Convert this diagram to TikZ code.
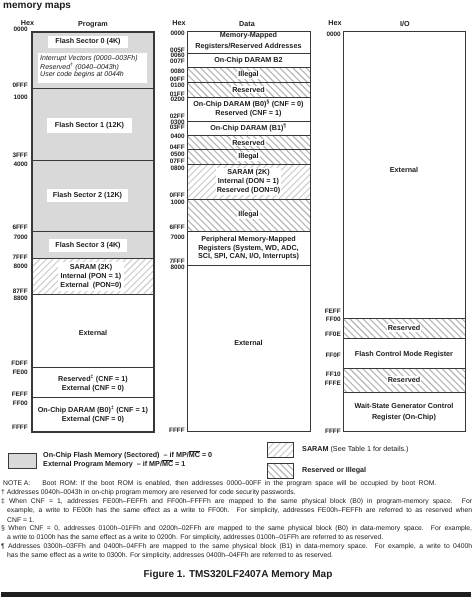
\documentclass[tikz,border=0pt]{standalone}
\usepackage{fontspec}
\setmainfont{Liberation Sans}

\definecolor{ink}{HTML}{1E1E1E}
\definecolor{framec}{HTML}{383838}
\definecolor{flashgray}{HTML}{D9D9D9}
\definecolor{saramhatch}{HTML}{D0D0D0}
\definecolor{resvhatch}{HTML}{B6B6B6}

\tikzset{
  region/.style={draw=framec, line width=0.7pt},
  flash/.style={region, fill=flashgray},
  lab/.style={font=\bfseries\fontsize{7.2}{9}\selectfont, text=ink, align=center, inner sep=1pt},
  wlab/.style={lab, fill=white},
  sector/.style={lab, fill=white, minimum width=80pt, minimum height=12pt},
  hexlab/.style={font=\bfseries\fontsize{6.4}{7}\selectfont, text=ink, anchor=east, inner sep=0pt},
  head/.style={font=\bfseries\fontsize{7.2}{8}\selectfont, text=ink, inner sep=0pt},
  note/.style={font=\fontsize{6.8}{8}\selectfont, text=ink, anchor=west, inner sep=0pt},
  legendtext/.style={font=\bfseries\fontsize{7.2}{8}\selectfont, text=ink, anchor=west, inner sep=0pt},
}

% diagonal hatching clipped to a rectangle:
% #1,#2 top-left corner, #3,#4 bottom-right corner, #5 = 1 rising lines, 0 falling lines, #6 colour
\newcommand\hatchrect[6]{%
  \begin{scope}
    \clip (#1,#2) rectangle (#3,#4);
    \foreach \o in {-60,-53.4,...,130}{%
      \ifnum#5=1
        \draw[#6, line width=1.1pt] ({#1+\o},#4) -- ++(60,-60);
      \else
        \draw[#6, line width=1.1pt] ({#1+\o},#2) -- ++(60,60);
      \fi
    }
  \end{scope}%
  \draw[framec, line width=0.7pt] (#1,#2) rectangle (#3,#4);%
}
\newcommand\saramrect[4]{\hatchrect{#1}{#2}{#3}{#4}{1}{saramhatch}}
\newcommand\resvrect[4]{\hatchrect{#1}{#2}{#3}{#4}{0}{resvhatch}}

\begin{document}
\begin{tikzpicture}[x=1pt, y=-1pt]
\useasboundingbox[fill=white] (0,0) rectangle (474,600);

% title
\node[font=\bfseries\fontsize{10}{12}\selectfont, text=ink, anchor=west, inner sep=0pt] (title) at (3,7) {memory maps};

% ---------------- Program space ----------------
\node[head] (hexP) at (27.5,23.5) {Hex};
\node[head] (progH) at (93,24.5) {Program};

\path[flash] (32,32) rectangle (154,88);
\path[flash] (32,88) rectangle (154,160);
\path[flash] (32,160) rectangle (154,231);
\path[flash] (32,231) rectangle (154,258);
\saramrect{32}{258}{154}{294}
\path[region] (32,294) rectangle (154,367);
\path[region] (32,367) rectangle (154,397);
\path[region] (32,397) rectangle (154,432);
\draw[framec, line width=1.1pt] (32,32) rectangle (154,432);

\node[sector] (fs0) at (88,42) {Flash Sector 0 (4K)};
\node[fill=white, minimum width=109pt, minimum height=30pt, inner sep=0pt] (ivbox) at (92.5,68) {};
\node[font=\itshape\fontsize{7}{7.4}\selectfont, text=ink, align=left, anchor=west, inner sep=0pt] (ivtext) at (40,66.5)
  {Interrupt Vectors (0000–003Fh)\\Reserved\textsuperscript{†} (0040–0043h)\\User code begins at 0044h};
\node[sector, minimum width=85pt, minimum height=15pt] (fs1) at (89.5,125.5) {Flash Sector 1 (12K)};
\node[sector, minimum width=81pt, minimum height=13pt] (fs2) at (87.5,195.5) {Flash Sector 2 (12K)};
\node[sector, minimum width=78pt, minimum height=13pt] (fs3) at (88,245.5) {Flash Sector 3 (4K)};
\node[wlab, inner sep=2pt] (psaram) at (91,276.5) {SARAM (2K)\\Internal (PON = 1)\\External\ \ (PON=0)};
\node[lab] (pext) at (93,333) {External};
\node[lab] (prsv) at (93,383.5) {Reserved\textsuperscript{‡} (CNF = 1)\\External (CNF = 0)};
\node[lab] (pb0) at (93,414.5) {On-Chip DARAM (B0)\textsuperscript{‡} (CNF = 1)\\External (CNF = 0)};

\node[hexlab] (p0000) at (28,29.5) {0000};
\node[hexlab] (p0FFF) at (28,85) {0FFF};
\node[hexlab] (p1000) at (28,97) {1000};
\node[hexlab] (p3FFF) at (28,155) {3FFF};
\node[hexlab] (p4000) at (28,164) {4000};
\node[hexlab] (p6FFF) at (28,227) {6FFF};
\node[hexlab] (p7000) at (28,237) {7000};
\node[hexlab] (p7FFF) at (28,257) {7FFF};
\node[hexlab] (p8000) at (28,266) {8000};
\node[hexlab] (p87FF) at (28,291) {87FF};
\node[hexlab] (p8800) at (28,298) {8800};
\node[hexlab] (pFDFF) at (28,363) {FDFF};
\node[hexlab] (pFE00) at (28,372) {FE00};
\node[hexlab] (pFEFF) at (28,394) {FEFF};
\node[hexlab] (pFF00) at (28,403) {FF00};
\node[hexlab] (pFFFF) at (28,427) {FFFF};

% ---------------- Data space ----------------
\node[head] (hexD) at (179,23.5) {Hex};
\node[head] (dataH) at (247,24) {Data};

\path[region] (187,31) rectangle (310,53);
\path[region] (187,53) rectangle (310,67);
\resvrect{187}{67}{310}{82}
\resvrect{187}{82}{310}{97}
\path[region] (187,97) rectangle (310,121);
\path[region] (187,121) rectangle (310,135);
\resvrect{187}{135}{310}{149}
\resvrect{187}{149}{310}{164}
\saramrect{187}{164}{310}{199}
\resvrect{187}{199}{310}{231}
\path[region] (187,231) rectangle (310,265);
\path[region] (187,265) rectangle (310,431);

\node[lab, font=\bfseries\fontsize{7.2}{11}\selectfont] (dmmr) at (248.5,41.5) {Memory-Mapped\\Registers/Reserved Addresses};
\node[lab] (db2) at (248.5,60.5) {On-Chip DARAM B2};
\node[wlab] (dill1) at (248.5,75) {Illegal};
\node[wlab] (drsv1) at (248.5,89.5) {Reserved};
\node[lab] (db0) at (248.5,108.5) {On-Chip DARAM (B0)\textsuperscript{§} (CNF = 0)\\Reserved (CNF = 1)};
\node[lab] (db1) at (248.5,128) {On-Chip DARAM (B1)\textsuperscript{¶}};
\node[wlab] (drsv2) at (248.5,142.5) {Reserved};
\node[wlab] (dill2) at (248.5,156.5) {Illegal};
\node[wlab] (dsaram) at (248.5,181.5) {SARAM (2K)\\Internal (DON = 1)\\Reserved (DON=0)};
\node[wlab] (dill3) at (248.5,215) {Illegal};
\node[lab, font=\bfseries\fontsize{7.2}{8.5}\selectfont] (dper) at (248.5,248.5) {Peripheral Memory-Mapped\\Registers (System, WD, ADC,\\SCI, SPI, CAN, I/O, Interrupts)};
\node[lab] (dext) at (248.5,343) {External};

\node[hexlab] (d0000) at (185,33) {0000};
\node[hexlab] (d005F) at (185,50) {005F};
\node[hexlab] (d0060) at (185,55.5) {0060};
\node[hexlab] (d007F) at (185,61) {007F};
\node[hexlab] (d0080) at (185,71) {0080};
\node[hexlab] (d00FF) at (185,79) {00FF};
\node[hexlab] (d0100) at (185,85) {0100};
\node[hexlab] (d01FF) at (185,94) {01FF};
\node[hexlab] (d0200) at (185,99.5) {0200};
\node[hexlab] (d02FF) at (185,116) {02FF};
\node[hexlab] (d0300) at (185,122.2) {0300};
\node[hexlab] (d03FF) at (185,127.7) {03FF};
\node[hexlab] (d0400) at (185,136) {0400};
\node[hexlab] (d04FF) at (185,147) {04FF};
\node[hexlab] (d0500) at (185,154) {0500};
\node[hexlab] (d07FF) at (185,161) {07FF};
\node[hexlab] (d0800) at (185,168) {0800};
\node[hexlab] (d0FFF) at (185,195) {0FFF};
\node[hexlab] (d1000) at (185,202) {1000};
\node[hexlab] (d6FFF) at (185,227) {6FFF};
\node[hexlab] (d7000) at (185,237) {7000};
\node[hexlab] (d7FFF) at (185,261.5) {7FFF};
\node[hexlab] (d8000) at (185,267.5) {8000};
\node[hexlab] (dFFFF) at (185,430) {FFFF};

% ---------------- I/O space ----------------
\node[head] (hexI) at (335,23.5) {Hex};
\node[head] (ioH) at (405,24) {I/O};

\path[region] (343,31) rectangle (465,318);
\resvrect{343}{318}{465}{338}
\path[region] (343,338) rectangle (465,368);
\resvrect{343}{368}{465}{392}
\path[region] (343,392) rectangle (465,431);

\node[lab] (iext) at (404,170) {External};
\node[wlab] (irsv1) at (404,328) {Reserved};
\node[lab] (ifcm) at (404,355) {Flash Control Mode Register};
\node[wlab] (irsv2) at (404,380) {Reserved};
\node[lab, font=\bfseries\fontsize{7.2}{11}\selectfont] (iws) at (404,412.5) {Wait-State Generator Control\\Register (On-Chip)};

\node[hexlab] (i0000) at (341,34) {0000};
\node[hexlab] (iFEFF) at (341,311) {FEFF};
\node[hexlab] (iFF00) at (341,319.5) {FF00};
\node[hexlab] (iFF0E) at (341,334) {FF0E};
\node[hexlab] (iFF0F) at (341,355) {FF0F};
\node[hexlab] (iFF10) at (341,374) {FF10};
\node[hexlab] (iFFFE) at (341,383) {FFFE};
\node[hexlab] (iFFFF) at (341,431) {FFFF};

% ---------------- legend ----------------
\path[flash] (8,453) rectangle (36,468);
\node[legendtext] (lg1) at (43,455) {On-Chip Flash Memory (Sectored)\ \ – if MP/$\overline{\mbox{MC}}$ = 0};
\node[legendtext] (lg2) at (43,463.5) {External Program Memory\ \ – if MP/$\overline{\mbox{MC}}$ = 1};
\saramrect{267}{442}{293}{457}
\node[legendtext] (lg3) at (302,449.5) {SARAM \mdseries(See Table 1 for details.)};
\resvrect{267}{463}{293}{478}
\node[legendtext] (lg4) at (302,470.5) {Reserved or Illegal};

% ---------------- notes ----------------
\node[note] (nA) at (3,484) {NOTE A:\hspace{12pt}\makebox[394pt][s]{Boot ROM: If the boot ROM is enabled, then addresses 0000–00FF in the program space will be occupied by boot ROM.}};
\node[note] (n1) at (1,493) {† Addresses 0040h–0043h in on-chip program memory are reserved for code security passwords.};
\node[note] (n2a) at (1,502) {\makebox[471pt][s]{‡ When CNF = 1, addresses FE00h–FEFFh and FF00h–FFFFh are mapped to the same physical block (B0) in program-memory space. For}};
\node[note] (n2b) at (7,511) {\makebox[465pt][s]{example, a write to FE00h has the same effect as a write to FF00h. For simplicity, addresses FE00h–FEFFh are referred to as reserved when}};
\node[note] (n2c) at (7,520) {CNF = 1.};
\node[note] (n3a) at (1,529) {\makebox[471pt][s]{§ When CNF = 0, addresses 0100h–01FFh and 0200h–02FFh are mapped to the same physical block (B0) in data-memory space. For example,}};
\node[note] (n3b) at (7,538) {a write to 0100h has the same effect as a write to 0200h. For simplicity, addresses 0100h–01FFh are referred to as reserved.};
\node[note] (n4a) at (1,547) {\makebox[471pt][s]{¶ Addresses 0300h–03FFh and 0400h–04FFh are mapped to the same physical block (B1) in data-memory space. For example, a write to 0400h}};
\node[note] (n4b) at (7,556) {has the same effect as a write to 0300h. For simplicity, addresses 0400h–04FFh are referred to as reserved.};

% caption and rule
\node[font=\bfseries\fontsize{10}{12}\selectfont, text=ink, inner sep=0pt] (caption) at (238,575) {Figure 1. TMS320LF2407A Memory Map};
\fill[ink] (1,592) rectangle (471,597);
\end{tikzpicture}
\end{document}
